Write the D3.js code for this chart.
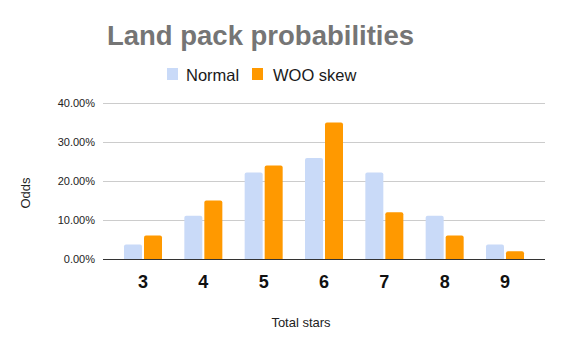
<!DOCTYPE html>
<html><head><meta charset="utf-8">
<script src="https://cdn.jsdelivr.net/npm/d3@7"></script>
<style>body{margin:0;background:#fff}svg{display:block}</style>
</head><body>
<script>
const categories = ["3","4","5","6","7","8","9"];
const seriesNames = ["Normal","WOO skew"];
const normal = [3.7, 11.1, 22.2, 25.9, 22.2, 11.1, 3.7];
const wooSkew = [6, 15, 24, 35, 12, 6, 2];
const yTicks = [0, 10, 20, 30, 40];
const colors = ["#c9daf8", "#ff9900"];

(function () {
const W = 563, H = 348;
const svg = d3.select("body").append("svg").attr("width", W).attr("height", H);
svg.append("rect").attr("width", W).attr("height", H).attr("fill", "#fff");

const pLeft = 103, pRight = 545, pTop = 103, pBottom = 259;
const x0 = d3.scaleBand().domain(categories).range([pLeft, pRight]).paddingInner(0.37).paddingOuter(0.348);
const x1 = d3.scaleBand().domain(seriesNames).range([0, x0.bandwidth()]).paddingInner(0.1);
const y = d3.scaleLinear().domain([0, 40]).range([pBottom, pTop]);

svg.append("g").selectAll("line").data(yTicks.filter(t => t > 0)).join("line")
  .attr("x1", pLeft).attr("x2", pRight).attr("y1", d => Math.round(y(d)) + 0.5).attr("y2", d => Math.round(y(d)) + 0.5)
  .attr("stroke", "#cccccc").attr("stroke-width", 1);

svg.append("g").selectAll("text").data(yTicks).join("text")
  .attr("x", 95).attr("y", d => y(d) + 4).attr("text-anchor", "end")
  .attr("font-family", "Liberation Sans, Arial, sans-serif").attr("font-size", 11).attr("fill", "#222")
  .text(d => d.toFixed(2) + "%");

const data = categories.map((c, i) => ({c, vals: [normal[i], wooSkew[i]]}));
const g = svg.append("g");
data.forEach(d => {
  d.vals.forEach((v, j) => {
    const bx = x0(d.c) + x1(seriesNames[j]);
    const bw = x1.bandwidth();
    const by = y(v);
    const bh = pBottom - by;
    const r = Math.min(2, bh / 2);
    g.append("path")
      .attr("d", `M${bx},${pBottom} L${bx},${by + r} Q${bx},${by} ${bx + r},${by} L${bx + bw - r},${by} Q${bx + bw},${by} ${bx + bw},${by + r} L${bx + bw},${pBottom} Z`)
      .attr("fill", colors[j]);
  });
});

svg.append("line").attr("x1", pLeft).attr("x2", pRight).attr("y1", pBottom + 0.5).attr("y2", pBottom + 0.5)
  .attr("stroke", "#333333").attr("stroke-width", 1);

svg.append("g").selectAll("text").data(categories).join("text")
  .attr("x", d => x0(d) + x0.bandwidth() / 2).attr("y", 288).attr("text-anchor", "middle")
  .attr("font-family", "Liberation Sans, Arial, sans-serif").attr("font-weight", "bold").attr("font-size", 18)
  .attr("fill", "#111").text(d => d);

svg.append("text").attr("x", 301).attr("y", 327).attr("text-anchor", "middle")
  .attr("font-family", "Liberation Sans, Arial, sans-serif").attr("font-size", 13).attr("fill", "#222")
  .text("Total stars");
svg.append("text").attr("transform", "translate(30,193) rotate(-90)").attr("text-anchor", "middle")
  .attr("font-family", "Liberation Sans, Arial, sans-serif").attr("font-size", 13).attr("fill", "#222")
  .text("Odds");

svg.append("text").attr("x", 260.5).attr("y", 45).attr("text-anchor", "middle")
  .attr("font-family", "Liberation Sans, Arial, sans-serif").attr("font-weight", "bold").attr("font-size", 27.5)
  .attr("fill", "#757575").text("Land pack probabilities");

const legend = [{name: seriesNames[0], sx: 167, tx: 186}, {name: seriesNames[1], sx: 252, tx: 273}];
legend.forEach((l, i) => {
  svg.append("rect").attr("x", l.sx).attr("y", 68).attr("width", 11).attr("height", 12).attr("fill", colors[i]);
  svg.append("text").attr("x", l.tx).attr("y", 81)
    .attr("font-family", "Liberation Sans, Arial, sans-serif").attr("font-size", 16.5).attr("fill", "#1a1a1a")
    .text(l.name);
});
})();
</script>
</body></html>
